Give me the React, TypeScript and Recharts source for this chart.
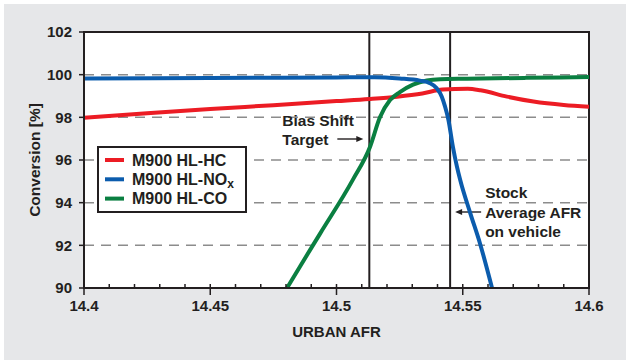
import React from 'react';
import {
  LineChart,
  Line,
  XAxis,
  YAxis,
  CartesianGrid,
  ReferenceLine,
  ReferenceArea,
  Legend,
} from 'recharts';

// Conversion [%] against urban air/fuel ratio for each pollutant
const HC_DATA = [
  { afr: 14.4, v: 97.98 },
  { afr: 14.425, v: 98.19 },
  { afr: 14.45, v: 98.39 },
  { afr: 14.475, v: 98.57 },
  { afr: 14.5, v: 98.76 },
  { afr: 14.513, v: 98.86 },
  { afr: 14.524, v: 98.97 },
  { afr: 14.534, v: 99.12 },
  { afr: 14.542, v: 99.3 },
  { afr: 14.552, v: 99.34 },
  { afr: 14.557, v: 99.27 },
  { afr: 14.5675, v: 98.97 },
  { afr: 14.578, v: 98.74 },
  { afr: 14.59, v: 98.58 },
  { afr: 14.6, v: 98.5 },
];

const NOX_DATA = [
  { afr: 14.4, v: 99.82 },
  { afr: 14.45, v: 99.84 },
  { afr: 14.5, v: 99.87 },
  { afr: 14.515, v: 99.88 },
  { afr: 14.525, v: 99.82 },
  { afr: 14.533, v: 99.72 },
  { afr: 14.537, v: 99.6 },
  { afr: 14.5397, v: 99.36 },
  { afr: 14.5417, v: 98.97 },
  { afr: 14.543, v: 98.5 },
  { afr: 14.5443, v: 97.9 },
  { afr: 14.5461, v: 96.62 },
  { afr: 14.5477, v: 95.69 },
  { afr: 14.549, v: 95.06 },
  { afr: 14.553, v: 93.5 },
  { afr: 14.5568, v: 92.1 },
  { afr: 14.5616, v: 90.0 },
];

const CO_DATA = [
  { afr: 14.4804, v: 90.0 },
  { afr: 14.4855, v: 91.0 },
  { afr: 14.4935, v: 92.55 },
  { afr: 14.5065, v: 95.08 },
  { afr: 14.5133, v: 96.62 },
  { afr: 14.5172, v: 98.0 },
  { afr: 14.5212, v: 98.81 },
  { afr: 14.5251, v: 99.18 },
  { afr: 14.5303, v: 99.53 },
  { afr: 14.5358, v: 99.73 },
  { afr: 14.541, v: 99.79 },
  { afr: 14.5517, v: 99.81 },
  { afr: 14.575, v: 99.85 },
  { afr: 14.6, v: 99.89 },
];

const X_TICKS = [
  14.4, 14.41, 14.42, 14.43, 14.44, 14.45, 14.46, 14.47, 14.48, 14.49, 14.5,
  14.51, 14.52, 14.53, 14.54, 14.55, 14.56, 14.57, 14.58, 14.59, 14.6,
];
const Y_TICKS = [90, 92, 94, 96, 98, 100, 102];

const BIAS_TARGET_AFR = 14.513;
const STOCK_AFR = 14.545;

const INK = '#231f20';
const FONT = '"Liberation Sans", Arial, Helvetica, sans-serif';

const SERIES = [
  { name: 'M900 HL-HC', color: '#ec1c24' },
  { name: 'M900 HL-NO', sub: 'x', color: '#0b5cad' },
  { name: 'M900 HL-CO', color: '#0a7f41' },
];

// x axis: minor ticks every 0.01 pointing inward, labelled majors every 0.05
const AfrTick = (props: any) => {
  const { x, y, payload } = props;
  const major = Math.round(payload.value * 100) % 5 === 0;
  return (
    <g>
      <line x1={x} x2={x} y1={y - 4} y2={major ? y + 7 : y} stroke={INK} strokeWidth={1.5} />
      {major && (
        <text
          x={x}
          y={y + 23}
          textAnchor="middle"
          fontFamily={FONT}
          fontWeight={700}
          fontSize={15}
          fill={INK}
        >
          {String(Number(payload.value.toFixed(2)))}
        </text>
      )}
    </g>
  );
};

const Arrow = ({ x1, x2, y }: { x1: number; x2: number; y: number }) => {
  const dir = x2 > x1 ? 1 : -1;
  return (
    <g>
      <line x1={x1} x2={x2 - dir * 5} y1={y} y2={y} stroke={INK} strokeWidth={1.4} />
      <path d={`M${x2},${y} L${x2 - dir * 7},${y - 3} L${x2 - dir * 7},${y + 3} Z`} fill={INK} />
    </g>
  );
};

const noteText = {
  fontFamily: FONT,
  fontWeight: 700,
  fontSize: 15.5,
  fill: INK,
};

const BiasLabel = (props: any) => {
  const { x, y } = props.viewBox;
  return (
    <g>
      <text x={x - 87} y={y + 94} {...noteText}>Bias Shift</text>
      <text x={x - 87} y={y + 113} {...noteText}>Target</text>
      <Arrow x1={x - 32} x2={x - 6} y={y + 107} />
    </g>
  );
};

const StockLabel = (props: any) => {
  const { x, y } = props.viewBox;
  return (
    <g>
      <text x={x + 35} y={y + 166} {...noteText}>Stock</text>
      <text x={x + 35} y={y + 185.5} {...noteText}>Average AFR</text>
      <text x={x + 35} y={y + 205} {...noteText}>on vehicle</text>
      <Arrow x1={x + 31} x2={x + 5} y={y + 180} />
    </g>
  );
};

const LegendBox = () => (
  <svg width={150} height={67} style={{ display: 'block' }}>
    <rect x={1} y={1} width={148} height={65} fill="#fff" stroke={INK} strokeWidth={2} />
    {SERIES.map((s, i) => {
      const cy = 14 + i * 19.3;
      return (
        <g key={s.name}>
          <line x1={8} x2={27} y1={cy} y2={cy} stroke={s.color} strokeWidth={4} />
          <text x={35} y={cy + 5.5} fontFamily={FONT} fontWeight={700} fontSize={16} fill={INK}>
            {s.name}
            {s.sub && (
              <tspan fontSize={12} dy={3}>
                {s.sub}
              </tspan>
            )}
          </text>
        </g>
      );
    })}
  </svg>
);

const YTitle = (props: any) => {
  const { x, y, height } = props.viewBox;
  const cx = x + 10;
  const cy = y + height / 2;
  return (
    <text
      x={cx}
      y={cy}
      transform={`rotate(-90 ${cx} ${cy})`}
      textAnchor="middle"
      dominantBaseline="central"
      fontFamily={FONT}
      fontWeight={700}
      fontSize={15.5}
      fill={INK}
    >
      Conversion [%]
    </text>
  );
};

export default function App() {
  return (
    <div
      style={{
        position: 'absolute',
        left: 0,
        top: 0,
        width: 626,
        height: 360,
        background: '#fff',
        overflow: 'hidden',
      }}
    >
      <div style={{ position: 'absolute', left: 4, top: 4, right: 0, bottom: 0, background: '#e6e7e9' }} />
      <div style={{ position: 'absolute', left: 84, top: 32, width: 505, height: 256, background: '#fff' }} />
      <div style={{ position: 'absolute', left: 0, top: 0 }}>
        <LineChart width={626} height={360} margin={{ top: 32, right: 37, bottom: 22, left: 24 }}>
          <CartesianGrid vertical={false} stroke="#8c8c8c" strokeWidth={1.5} strokeDasharray="10 7" />
          <XAxis
            dataKey="afr"
            type="number"
            domain={[14.4, 14.6]}
            ticks={X_TICKS}
            interval={0}
            allowDataOverflow
            height={50}
            axisLine={{ stroke: INK, strokeWidth: 2 }}
            tickLine={false}
            tickSize={0}
            tickMargin={0}
            tick={<AfrTick />}
            label={{
              value: 'URBAN AFR',
              position: 'insideBottom',
              offset: 1,
              fill: INK,
              fontFamily: FONT,
              fontWeight: 700,
              fontSize: 15,
            }}
          />
          <YAxis
            type="number"
            domain={[90, 102]}
            ticks={Y_TICKS}
            interval={0}
            allowDataOverflow
            width={60}
            axisLine={{ stroke: INK, strokeWidth: 2 }}
            tickLine={{ stroke: INK, strokeWidth: 1.5 }}
            tickSize={5}
            tickMargin={7}
            tick={{ fill: INK, fontFamily: FONT, fontWeight: 700, fontSize: 15 }}
            label={YTitle}
          />
          <ReferenceArea x1={14.4} x2={14.6} y1={90} y2={102} fill="none" stroke={INK} strokeWidth={2} />
          <ReferenceLine x={BIAS_TARGET_AFR} stroke={INK} strokeWidth={2} label={BiasLabel} />
          <ReferenceLine x={STOCK_AFR} stroke={INK} strokeWidth={2} label={StockLabel} />
          <Legend
            layout="horizontal"
            verticalAlign="middle"
            align="center"
            content={LegendBox}
            wrapperStyle={{ left: 97, top: 146, width: 150, height: 67 }}
          />
          <Line
            data={HC_DATA}
            dataKey="v"
            name="M900 HL-HC"
            stroke={SERIES[0].color}
            strokeWidth={4}
            dot={false}
            type="monotone"
            isAnimationActive={false}
          />
          <Line
            data={CO_DATA}
            dataKey="v"
            name="M900 HL-CO"
            stroke={SERIES[2].color}
            strokeWidth={4}
            dot={false}
            type="monotone"
            isAnimationActive={false}
          />
          <Line
            data={NOX_DATA}
            dataKey="v"
            name="M900 HL-NOx"
            stroke={SERIES[1].color}
            strokeWidth={4}
            dot={false}
            type="monotone"
            isAnimationActive={false}
          />
        </LineChart>
      </div>
    </div>
  );
}
